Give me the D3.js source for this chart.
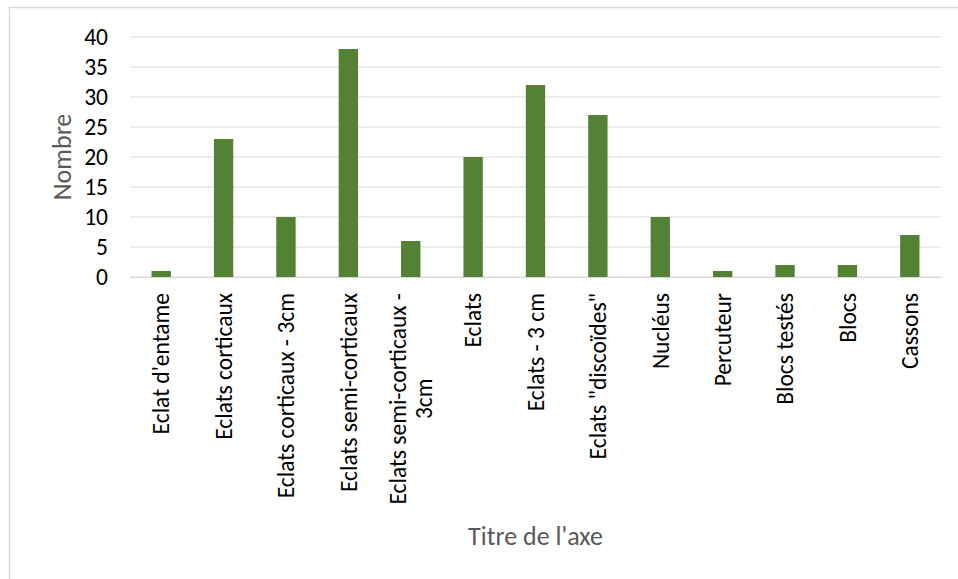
<!DOCTYPE html>
<html>
<head>
<meta charset="utf-8">
<script src="https://cdn.jsdelivr.net/npm/d3@7"></script>
<style>
  body { margin: 0; background: #fff; }
  svg { display: block; font-family: Calibri, Carlito, "Open Sans", sans-serif; }
</style>
</head>
<body>
<div id="chart"></div>
<script>
const categories = [
  "Eclat d'entame",
  "Eclats corticaux",
  "Eclats corticaux - 3cm",
  "Eclats semi-corticaux",
  "Eclats semi-corticaux - 3cm",
  "Eclats",
  "Eclats - 3 cm",
  "Eclats \"discoïdes\"",
  "Nucléus",
  "Percuteur",
  "Blocs testés",
  "Blocs",
  "Cassons"
];
const values = [1, 23, 10, 38, 6, 20, 32, 27, 10, 1, 2, 2, 7];
const yTicks = [0, 5, 10, 15, 20, 25, 30, 35, 40];

// the long label wraps in the reference
const labelLines = {
  "Eclats semi-corticaux - 3cm": ["Eclats semi-corticaux -", "3cm"]
};

const width = 958;
const height = 579;
const margin = { top: 37, right: 17, bottom: 302, left: 130 };

const svg = d3.select("#chart")
  .append("svg")
  .attr("width", width)
  .attr("height", height);

// chart area border (only top and left visible)
svg.append("rect")
  .attr("x", 9.5)
  .attr("y", 7.5)
  .attr("width", width + 20)
  .attr("height", height + 20)
  .attr("fill", "none")
  .attr("stroke", "#d9d9d9")
  .attr("stroke-width", 1.5);

const x = d3.scaleBand()
  .domain(categories)
  .range([margin.left, width - margin.right])
  .paddingInner(0.69)
  .paddingOuter(0.345);

const y = d3.scaleLinear()
  .domain([0, 40])
  .range([height - margin.bottom, margin.top]);

// gridlines
svg.append("g")
  .selectAll("line")
  .data(yTicks)
  .join("line")
  .attr("x1", margin.left)
  .attr("x2", width - margin.right)
  .attr("y1", (d) => y(d))
  .attr("y2", (d) => y(d))
  .attr("stroke", "#d9d9d9")
  .attr("stroke-width", 1.2);

// y axis labels
const yAxis = svg.append("g")
  .attr("transform", `translate(${margin.left - 22},0)`)
  .call(d3.axisLeft(y).tickValues(yTicks).tickSize(0).tickPadding(0));
yAxis.select(".domain").remove();
yAxis.selectAll("text")
  .attr("font-size", "23.5px")
  .attr("font-family", "Calibri, Carlito, 'Open Sans', sans-serif")
  .attr("fill", "#000");

// bars
svg.append("g")
  .selectAll("rect")
  .data(values)
  .join("rect")
  .attr("x", (d, i) => x(categories[i]))
  .attr("y", (d) => y(d))
  .attr("width", x.bandwidth())
  .attr("height", (d) => y(0) - y(d))
  .attr("fill", "#548235");

// x axis
const xAxis = svg.append("g")
  .attr("transform", `translate(0,${y(0)})`)
  .call(d3.axisBottom(x).tickSize(0).tickFormat(""));
xAxis.select(".domain").attr("stroke", "#d9d9d9").attr("stroke-width", 1.2);

// rotated category labels
const labels = svg.append("g")
  .selectAll("text")
  .data(categories)
  .join("text")
  .attr("transform", (d) => `translate(${x(d) + x.bandwidth() / 2},${y(0) + 16}) rotate(-90)`)
  .attr("text-anchor", "end")
  .attr("font-size", "23.5px")
  .attr("fill", "#000");

labels.each(function (d) {
  const lines = labelLines[d] || [d];
  const t = d3.select(this);
  const lh = 26;
  const start = -((lines.length - 1) * lh) / 2;
  lines.forEach((line, i) => {
    t.append("tspan")
      .attr("x", 0)
      .attr("y", start + i * lh)
      .attr("dy", "0.35em")
      .attr("text-anchor", i === 0 ? "end" : "middle")
      .text(line);
  });
});

// second line of the wrapped label centred under the first
labels.filter((d) => labelLines[d]).each(function () {
  const tspans = d3.select(this).selectAll("tspan").nodes();
  const firstLen = tspans[0].getComputedTextLength();
  d3.select(tspans[1]).attr("x", -firstLen / 2);
});

// axis titles
svg.append("text")
  .attr("transform", `translate(71,${(y(0) + y(40)) / 2}) rotate(-90)`)
  .attr("text-anchor", "middle")
  .attr("font-size", "26px")
  .attr("fill", "#595959")
  .text("Nombre");

svg.append("text")
  .attr("x", (margin.left + width - margin.right) / 2)
  .attr("y", 545)
  .attr("text-anchor", "middle")
  .attr("font-size", "26px")
  .attr("fill", "#595959")
  .text("Titre de l'axe");
</script>
</body>
</html>
